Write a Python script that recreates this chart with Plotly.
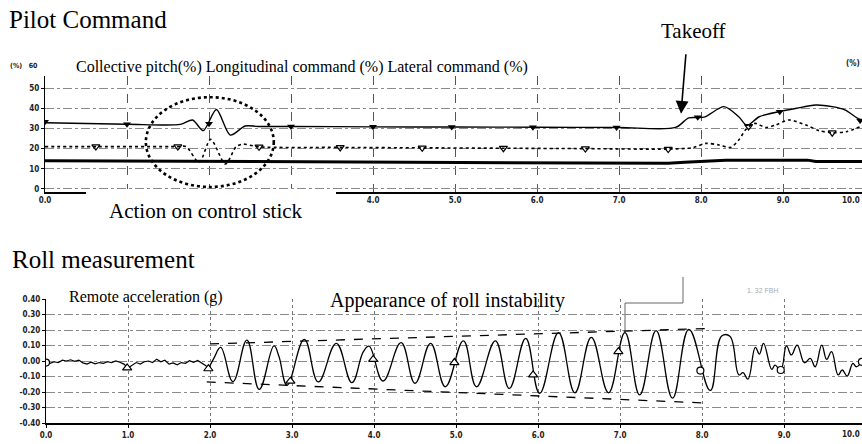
import plotly.graph_objects as go

W, H = 862, 444


def pxx(x):
    return x / W


def pyy(y):
    return 1 - y / H


# ---------------- Pilot command (top panel) ----------------
# Longitudinal command (solid line with filled down-triangles)
long_t = [0, 1.0, 1.65, 1.8, 1.93, 2.09, 2.26, 2.44, 2.6, 3.0, 4.0, 5.0, 6.0, 7.0, 7.69,
          7.85, 8.04, 8.28, 8.46, 8.56, 8.71, 8.95, 9.15, 9.4, 9.6, 9.76, 9.88, 9.97]
long_v = [32.8, 32.1, 32.0, 34.2, 28.9, 39.4, 26.7, 31.2, 31.0, 31.0, 30.8, 30.7, 30.6, 30.5, 30.5,
          35.2, 35.6, 40.8, 35.8, 31.5, 35.8, 38.3, 39.9, 41.6, 40.8, 39.1, 35.8, 33.8]
long_mk_t = [0, 1, 2, 3, 4, 4.96, 5.95, 6.97, 7.96, 8.96, 9.94]
long_mk_v = [33.3, 32.1, 32.3, 31.0, 30.8, 30.7, 30.6, 30.5, 35.6, 38.3, 34.0]

# Lateral command (dotted line with open down-triangles)
lat_t = [0, 0.62, 1.62, 1.72, 1.88, 2.02, 2.2, 2.33, 2.41, 2.61, 3.6, 4.6, 5.59, 6.59, 7.6,
         7.9, 8.06, 8.22, 8.36, 8.46, 8.54, 8.59, 8.66, 8.79, 8.91, 9.07, 9.28, 9.44, 9.6, 9.77, 9.96]
lat_v = [21.0, 21.0, 21.0, 21.0, 13.2, 24.6, 12.4, 20.9, 22.2, 20.9, 20.6, 20.4, 20.2, 20.0, 19.8,
         20.5, 22.6, 21.8, 20.6, 24.3, 29.2, 31.2, 32.5, 30.5, 31.7, 34.2, 31.7, 28.9, 27.9, 28.4, 31.2]
lat_mk_t = [0.62, 1.62, 2.61, 3.6, 4.6, 5.59, 6.59, 7.6, 8.58, 9.6]
lat_mk_v = [21.0, 21.0, 20.9, 20.6, 20.4, 20.2, 20.0, 19.8, 31.0, 27.9]

# Collective pitch (thick line)
coll_t = [0, 2.0, 4.0, 6.0, 7.6, 7.8, 8.3, 9.3, 9.4, 10.0]
coll_v = [14.0, 13.6, 13.2, 12.8, 12.7, 13.3, 14.3, 14.3, 13.6, 13.6]

top_xticks = [0, 1, 2, 3, 4, 5, 6, 7, 8, 9]
top_xtick_labels = ["0.0", "", "", "", "4.0", "5.0", "6.0", "7.0", "8.0", "9.0"]
top_yticks = [0, 10, 20, 30, 40, 50]
top_ytick_labels = ["0", "10", "20", "30", "40", "50"]

# ---------------- Roll measurement (bottom panel) ----------------
noise_t = [0, 0.05, 0.1, 0.15, 0.2, 0.25, 0.3, 0.35, 0.4, 0.45, 0.5, 0.55, 0.6, 0.65, 0.7,
           0.75, 0.8, 0.85, 0.9, 0.95, 1.0, 1.05, 1.1, 1.15, 1.2, 1.25, 1.3, 1.35, 1.4, 1.45,
           1.5, 1.55, 1.6, 1.65, 1.7, 1.75, 1.8, 1.85, 1.9, 1.95, 1.98]
noise_v = [-0.01, -0.015, -0.005, -0.01, 0.005, 0.0, 0.008, -0.002, 0.006, -0.012, -0.02, -0.008,
           -0.018, -0.01, -0.015, -0.005, -0.01, 0.0, -0.008, -0.02, -0.045, -0.025, -0.01, -0.02,
           -0.005, 0.0, -0.01, 0.012, -0.005, 0.005, -0.02, -0.012, -0.025, -0.01, -0.015, 0.002,
           -0.008, 0.004, -0.015, -0.03, -0.05]

osc_t = [1.98, 2.05, 2.13, 2.28, 2.45, 2.6, 2.78, 2.84, 2.94, 3.15, 3.32, 3.54, 3.73, 3.87, 3.94,
         4.11, 4.33, 4.5, 4.69, 4.87, 5.09, 5.25, 5.48, 5.65, 5.85, 6.02, 6.25, 6.45, 6.65, 6.86,
         7.06, 7.24, 7.44, 7.64, 7.84, 8.1, 8.24, 8.34, 8.45, 8.5, 8.56, 8.65, 8.7, 8.75, 8.85,
         8.89, 8.96, 9.03, 9.09, 9.16, 9.25, 9.32, 9.38, 9.46, 9.52, 9.58, 9.66, 9.71, 9.77, 9.84,
         9.88, 9.95]
osc_v = [-0.05, 0.02, 0.088, -0.133, 0.135, -0.183, 0.097, 0.03, -0.155, 0.14, -0.135, 0.114, -0.14,
         0.06, 0.096, -0.129, 0.118, -0.144, 0.114, -0.166, 0.13, -0.166, 0.13, -0.177, 0.146,
         -0.209, 0.183, -0.205, 0.153, -0.205, 0.183, -0.219, 0.196, -0.24, 0.204, -0.19, 0.161,
         0.16, -0.09, -0.075, -0.117, 0.088, 0.045, 0.114, -0.054, -0.026, -0.058, 0.097, 0.039,
         0.103, -0.011, 0.017, -0.037, 0.103, 0.011, 0.06, -0.09, -0.058, -0.097, -0.015, -0.037,
         -0.005]

tri_mk_t = [0.99, 1.98, 2.98, 3.99, 4.98, 5.94, 6.98]
tri_mk_v = [-0.045, -0.05, -0.13, 0.01, -0.01, -0.09, 0.06]
circ_mk_t = [0.0, 7.98, 8.96, 9.95]
circ_mk_v = [-0.01, -0.062, -0.058, -0.005]

env_up_t = [2.0, 8.1]
env_up_v = [0.11, 0.21]
env_lo_t = [1.96, 8.0]
env_lo_v = [-0.135, -0.27]

bot_xticks = [0, 1, 2, 3, 4, 5, 6, 7, 8, 9]
bot_xtick_labels = ["0.0", "1.0", "2.0", "3.0", "4.0", "5.0", "6.0", "7.0", "8.0", "9.0"]
bot_yticks = [0.4, 0.3, 0.2, 0.1, 0.0, -0.1, -0.2, -0.3, -0.4]
bot_ytick_labels = ["0.40", "0.30", "0.20", "0.10", "0.00", "-0.10", "-0.20", "-0.30", "-0.40"]

SERIF = "Liberation Serif, Times New Roman, serif"
TICKF = dict(family="Liberation Sans Narrow, DejaVu Sans Condensed, Liberation Sans", size=8,
             color="#222", weight="bold")

fig = go.Figure()

# top traces
fig.add_trace(go.Scatter(x=coll_t, y=coll_v, mode="lines", line=dict(color="black", width=3),
                         name="Collective pitch (%)", xaxis="x", yaxis="y"))
fig.add_trace(go.Scatter(x=lat_t, y=lat_v, mode="lines", line=dict(color="black", width=1.6, dash="dot",
                                                                    shape="spline", smoothing=0.8),
                         name="Lateral command (%)", xaxis="x", yaxis="y"))
fig.add_trace(go.Scatter(x=long_t, y=long_v, mode="lines", line=dict(color="black", width=1.4,
                                                                      shape="spline", smoothing=0.8),
                         name="Longitudinal command (%)", xaxis="x", yaxis="y"))
fig.add_trace(go.Scatter(x=long_mk_t, y=long_mk_v, mode="markers",
                         marker=dict(symbol="triangle-down", size=7, color="black"),
                         xaxis="x", yaxis="y"))
fig.add_trace(go.Scatter(x=lat_mk_t, y=lat_mk_v, mode="markers",
                         marker=dict(symbol="triangle-down-open", size=7, color="black",
                                     line=dict(width=1.2)),
                         xaxis="x", yaxis="y"))

# bottom traces
fig.add_trace(go.Scatter(x=noise_t, y=noise_v, mode="lines", line=dict(color="black", width=1.2),
                         xaxis="x2", yaxis="y2"))
fig.add_trace(go.Scatter(x=osc_t, y=osc_v, mode="lines", line=dict(color="black", width=1.3,
                                                                    shape="spline", smoothing=1.2),
                         xaxis="x2", yaxis="y2"))
fig.add_trace(go.Scatter(x=env_up_t, y=env_up_v, mode="lines", line=dict(color="black", width=1.3, dash="dash"),
                         xaxis="x2", yaxis="y2"))
fig.add_trace(go.Scatter(x=env_lo_t, y=env_lo_v, mode="lines", line=dict(color="black", width=1.3, dash="dash"),
                         xaxis="x2", yaxis="y2"))
fig.add_trace(go.Scatter(x=tri_mk_t, y=tri_mk_v, mode="markers",
                         marker=dict(symbol="triangle-up", size=8, color="white",
                                     line=dict(color="black", width=1.2)),
                         xaxis="x2", yaxis="y2"))
fig.add_trace(go.Scatter(x=circ_mk_t, y=circ_mk_v, mode="markers",
                         marker=dict(symbol="circle", size=7, color="white",
                                     line=dict(color="black", width=1.2)),
                         xaxis="x2", yaxis="y2"))

axis_common = dict(showline=True, linecolor="black", zeroline=False, tickfont=TICKF, automargin=False)

fig.update_layout(
    width=W, height=H,
    margin=dict(l=0, r=0, t=0, b=0, pad=0),
    paper_bgcolor="white", plot_bgcolor="white",
    showlegend=False,
    xaxis=dict(domain=[pxx(45), 1], range=[0, 9.963], anchor="y", linewidth=1.6,
               tickvals=top_xticks, ticktext=top_xtick_labels, ticks="",
               showgrid=True, gridcolor="#555", griddash="dash", gridwidth=1, **axis_common),
    yaxis=dict(domain=[pyy(192), pyy(76)], range=[-1.5, 56], anchor="x", linewidth=1.4,
               tickvals=top_yticks, ticktext=top_ytick_labels, ticks="outside", ticklen=3,
               tickcolor="black", showgrid=True, gridcolor="#8a8a8a", griddash="dashdot",
               gridwidth=1, **axis_common),
    xaxis2=dict(domain=[pxx(46), 1], range=[0, 9.951], anchor="y2", linewidth=1.8,
                tickvals=bot_xticks, ticktext=bot_xtick_labels, ticks="outside", ticklen=3,
                tickcolor="black", showgrid=True, gridcolor="#777", griddash="dot", gridwidth=1,
                **axis_common),
    yaxis2=dict(domain=[pyy(423), pyy(299)], range=[-0.4, 0.4], anchor="x2", linewidth=1.4,
                tickvals=bot_yticks, ticktext=bot_ytick_labels, ticks="outside", ticklen=3,
                tickcolor="black", showgrid=True, gridcolor="#8a8a8a", griddash="dashdot",
                gridwidth=1, **axis_common),
)

shapes = [
    # dotted ellipse around the control stick action
    dict(type="circle", xref="x", yref="y", x0=1.23, x1=2.79, y0=1.0, y1=45.5,
         line=dict(color="black", width=2.6, dash="dot"), layer="above"),
    # white box under the "Action on control stick" caption (erases the axis there)
    dict(type="rect", xref="paper", yref="paper", x0=pxx(86), x1=pxx(336), y0=pyy(232), y1=pyy(189),
         fillcolor="white", line=dict(width=0), layer="above"),
    # faint bracket from the scanned record (roll panel, upper right)
    dict(type="path", xref="paper", yref="paper",
         path=f"M {pxx(625)} {pyy(333)} L {pxx(625)} {pyy(303)} L {pxx(683)} {pyy(303)} L {pxx(683)} {pyy(277)}",
         line=dict(color="#666", width=1), layer="below"),
]
fig.update_layout(shapes=shapes)

ann = [
    dict(text="Pilot Command", x=pxx(7), y=pyy(20), xanchor="left", yanchor="middle",
         font=dict(family=SERIF, size=25, color="black")),
    dict(text="Collective pitch(%) Longitudinal command (%) Lateral command (%)", x=pxx(74), y=pyy(67),
         xanchor="left", yanchor="middle", font=dict(family=SERIF, size=16, color="black")),
    dict(text="Action on control stick", x=pxx(107), y=pyy(211), xanchor="left", yanchor="middle",
         font=dict(family=SERIF, size=21, color="black")),
    dict(text="Takeoff", x=pxx(693), y=pyy(31), xanchor="center", yanchor="middle",
         font=dict(family=SERIF, size=21, color="black")),
    dict(text="", x=7.756, y=37.3, xref="x", yref="y", showarrow=True, ax=5, ay=-61,
         arrowhead=2, arrowsize=1.6, arrowwidth=1.6, arrowcolor="black"),
    dict(text="(%)&nbsp;&nbsp;&nbsp;60", x=pxx(40), y=pyy(66), xanchor="right", yanchor="middle",
         font=dict(size=7, color="#222", family="Liberation Sans Narrow, DejaVu Sans Condensed", weight="bold")),
    dict(text="(%)", x=pxx(862), y=pyy(64), xanchor="right", yanchor="middle",
         font=dict(size=8, color="#222", family="Liberation Sans Narrow, DejaVu Sans Condensed", weight="bold")),
    dict(text="10.0", x=pxx(862), y=pyy(201), xanchor="right", yanchor="middle", font=TICKF),
    dict(text="Roll measurement", x=pxx(10), y=pyy(259), xanchor="left", yanchor="middle",
         font=dict(family=SERIF, size=25, color="black")),
    dict(text="Remote acceleration (g)", x=pxx(67), y=pyy(297), xanchor="left", yanchor="middle",
         font=dict(family=SERIF, size=16, color="black")),
    dict(text="Appearance of roll instability", x=pxx(328), y=pyy(300), xanchor="left", yanchor="middle",
         font=dict(family=SERIF, size=20, color="black")),
    dict(text="1. 32 FBH", x=pxx(745), y=pyy(290), xanchor="left", yanchor="middle",
         font=dict(family="Liberation Sans", size=7, color="#aaa")),
    dict(text="10.0", x=pxx(862), y=pyy(434), xanchor="right", yanchor="middle", font=TICKF),
]
for a in ann:
    a.setdefault("xref", "paper")
    a.setdefault("yref", "paper")
    a.setdefault("showarrow", False)
fig.update_layout(annotations=ann)

fig.write_html("out.html", config={"displayModeBar": False},
               post_script="document.body.style.margin='0';")
